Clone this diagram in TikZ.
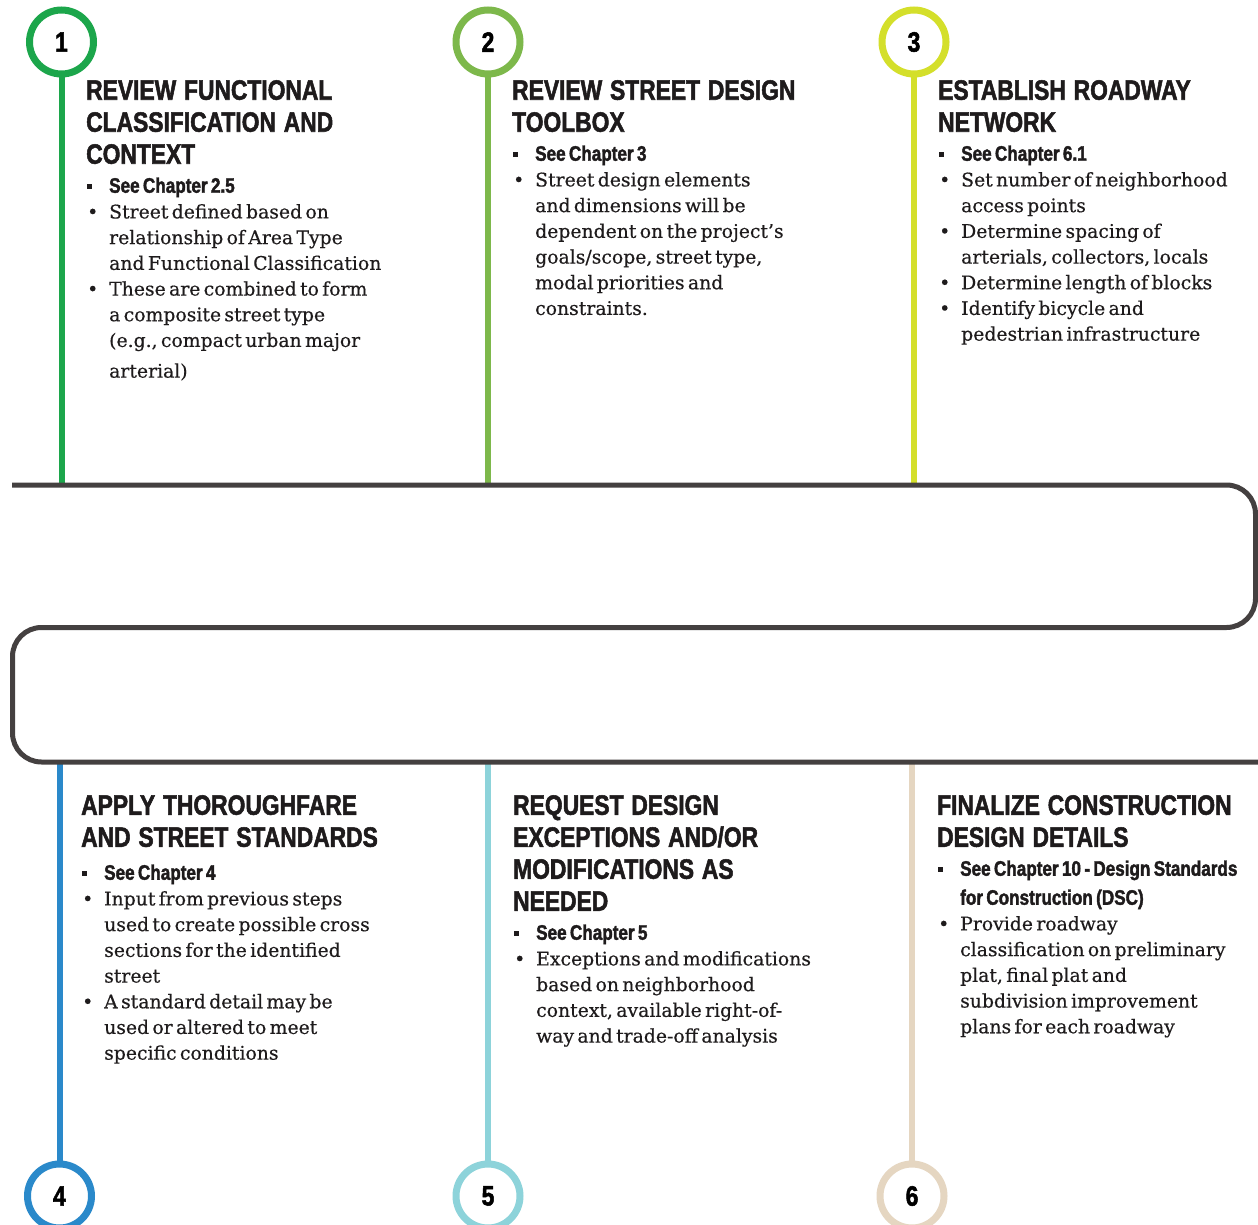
\documentclass[tikz,border=0pt]{standalone}
\usepackage{fontspec}
\setmainfont[FakeBold=0.4]{DejaVu Serif}
\newfontfamily\hdfont[FakeStretch=0.815,BoldFeatures={FakeBold=1.8}]{Liberation Sans}
\definecolor{cone}{HTML}{1CA64B}
\definecolor{ctwo}{HTML}{7DB84B}
\definecolor{cthree}{HTML}{D4DF2B}
\definecolor{cfour}{HTML}{2A89CA}
\definecolor{cfive}{HTML}{8DD3DA}
\definecolor{csix}{HTML}{E5D6C1}
\definecolor{serp}{HTML}{444040}
\definecolor{txt}{HTML}{1E1B1C}
\newcommand\hd{\hdfont\bfseries\fontsize{28}{32}\selectfont\spaceskip=0.28em plus 0.1em\relax}
\newcommand\shd{\hdfont\bfseries\fontsize{21}{29}\selectfont}
\newcommand\bd{\fontsize{18.8}{25.7}\selectfont}
\newcommand\sqb{\rule[4pt]{5pt}{5pt}}
\newcommand\nl{\hfil\break}
\newcommand\bitem[3]{\par{#1\noindent\hangindent=23pt\hangafter=1\makebox[23pt][l]{\hspace{1pt}#2}#3\par}}
\newcommand\heading[1]{{\hd\noindent #1\par}}
\tikzset{
  ring/.style={circle, draw=#1, line width=7pt, minimum size=64pt, inner sep=0pt, fill=white,
    font=\hdfont\bfseries\fontsize{28}{28}\selectfont, text=black},
  stem/.style={draw=#1, line width=6pt},
  section/.style={anchor=north west, inner sep=0pt, text width=380pt, text=txt},
  road/.style={draw=serp, line width=5pt, rounded corners=29pt}
}
\begin{document}
\begin{tikzpicture}[x=1pt,y=-1pt]
\useasboundingbox[fill=white] (0,0) rectangle (1258,1225);
% anchors on the road
\coordinate (t1) at (61.5,485);
\coordinate (t2) at (488,485);
\coordinate (t3) at (914,485);
\coordinate (b4) at (59.5,762);
\coordinate (b5) at (488,762);
\coordinate (b6) at (912,762);
\coordinate (r0) at (12,485);
\coordinate (r1) at (1255.5,485);
\coordinate (r2) at (1255.5,627.5);
\coordinate (r3) at (12.5,627.5);
\coordinate (r4) at (12.5,762);
\coordinate (r5) at (1258,762);
% circles
\node[ring=cone]   (n1) at (61.5,42) {1};
\node[ring=ctwo]   (n2) at (488,42) {2};
\node[ring=cthree] (n3) at (914,42) {3};
\node[ring=cfour]  (n4) at (59.5,1196) {4};
\node[ring=cfive]  (n5) at (488,1196) {5};
\node[ring=csix]   (n6) at (912,1196) {6};
% stems
\draw[stem=cone]   (n1.south) -- (t1);
\draw[stem=ctwo]   (n2.south) -- (t2);
\draw[stem=cthree] (n3.south) -- (t3);
\draw[stem=cfour]  (b4) -- (n4.north);
\draw[stem=cfive]  (b5) -- (n5.north);
\draw[stem=csix]   (b6) -- (n6.north);
% serpentine road
\draw[road] (r0) -- (r1) -- (r2) -- (r3) -- (r4) -- (r5);
% sections
\node[section] (s1) at (86,80) {%
\heading{REVIEW FUNCTIONAL\nl CLASSIFICATION AND\nl CONTEXT}%
\bitem{\shd}{\sqb}{See Chapter 2.5}%
\bitem{\bd}{\textbullet}{Street defined based on\nl relationship of Area Type\nl and Functional Classification}%
\bitem{\bd}{\textbullet}{These are combined to form\nl a composite street type\nl (e.g., compact urban major\vadjust{\vskip5pt}\nl arterial)}};
\node[section] (s2) at (512,80) {%
\heading{REVIEW STREET DESIGN\nl TOOLBOX}%
\bitem{\shd}{\sqb}{See Chapter 3}%
\bitem{\bd}{\textbullet}{Street design elements\nl and dimensions will be\nl dependent on the project’s\nl goals/scope, street type,\nl modal priorities and\nl constraints.}};
\node[section] (s3) at (938,80) {%
\heading{ESTABLISH ROADWAY\nl NETWORK}%
\bitem{\shd}{\sqb}{See Chapter 6.1}%
\bitem{\bd}{\textbullet}{Set number of neighborhood\nl access points}%
\bitem{\bd}{\textbullet}{Determine spacing of\nl arterials, collectors, locals}%
\bitem{\bd}{\textbullet}{Determine length of blocks}%
\bitem{\bd}{\textbullet}{Identify bicycle and\nl pedestrian infrastructure}};
\node[section] (s4) at (81,795) {%
\heading{APPLY THOROUGHFARE\nl AND STREET STANDARDS}%
\vspace{4pt}%
\bitem{\shd}{\sqb}{See Chapter 4}%
\bitem{\bd}{\textbullet}{Input from previous steps\nl used to create possible cross\nl sections for the identified\nl street}%
\bitem{\bd}{\textbullet}{A standard detail may be\nl used or altered to meet\nl specific conditions}};
\node[section] (s5) at (513,795) {%
\heading{REQUEST DESIGN\nl EXCEPTIONS AND/OR\nl MODIFICATIONS AS\nl NEEDED}%
\bitem{\shd}{\sqb}{See Chapter 5}%
\bitem{\bd}{\textbullet}{Exceptions and modifications\nl based on neighborhood\nl context, available right-of-\nl way and trade-off analysis}};
\node[section] (s6) at (937,795) {%
\heading{FINALIZE CONSTRUCTION\nl DESIGN DETAILS}%
\bitem{\shd}{\sqb}{See Chapter 10 - Design Standards\nl for Construction (DSC)}%
\bitem{\bd}{\textbullet}{Provide roadway\nl classification on preliminary\nl plat, final plat and\nl subdivision improvement\nl plans for each roadway}};
\end{tikzpicture}
\end{document}
